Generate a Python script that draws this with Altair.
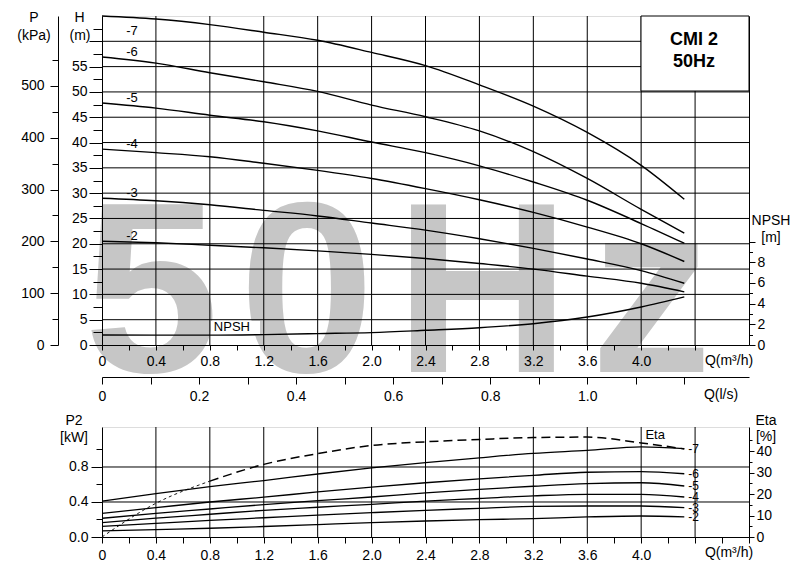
import altair as alt
import pandas as pd

# ---------------- data ----------------
Q = [0, 0.4, 0.8, 1.2, 1.6, 2.0, 2.4, 2.8, 3.2, 3.6, 4.0, 4.32]
STAGES = ["-7", "-6", "-5", "-4", "-3", "-2"]

H_7 = [65.0, 64.4, 63.3, 61.8, 60.2, 57.8, 55.2, 51.4, 47.2, 42.0, 35.5, 28.8]
H_6 = [56.9, 55.7, 53.8, 52.0, 50.1, 47.4, 45.1, 42.3, 38.2, 32.9, 26.8, 22.1]
H_5 = [47.8, 46.8, 45.4, 44.1, 42.3, 40.1, 38.0, 35.4, 32.2, 28.6, 24.0, 20.1]
H_4 = [38.7, 38.0, 37.2, 35.9, 34.5, 32.9, 30.9, 28.7, 26.2, 23.3, 20.0, 16.5]
H_3 = [29.0, 28.5, 27.7, 26.6, 25.5, 24.1, 22.7, 21.0, 19.1, 17.0, 14.7, 12.2]
H_2 = [20.5, 20.2, 19.7, 19.2, 18.6, 17.9, 17.1, 16.1, 15.0, 13.6, 12.2, 10.5]
NPSH = [0.97, 0.95, 0.95, 1.0, 1.1, 1.2, 1.42, 1.67, 2.06, 2.7, 3.67, 4.65]

P2_7 = [0.41, 0.495, 0.575, 0.645, 0.72, 0.79, 0.85, 0.905, 0.955, 0.99, 1.03, 1.01]
P2_6 = [0.27, 0.335, 0.40, 0.455, 0.515, 0.57, 0.62, 0.665, 0.705, 0.74, 0.746, 0.723]
P2_5 = [0.214, 0.27, 0.32, 0.37, 0.415, 0.457, 0.505, 0.545, 0.58, 0.61, 0.62, 0.583]
P2_4 = [0.164, 0.215, 0.26, 0.305, 0.34, 0.373, 0.41, 0.44, 0.47, 0.488, 0.488, 0.457]
P2_3 = [0.122, 0.155, 0.19, 0.22, 0.25, 0.278, 0.305, 0.328, 0.35, 0.354, 0.354, 0.335]
P2_2 = [0.069, 0.085, 0.10, 0.12, 0.142, 0.164, 0.183, 0.198, 0.21, 0.229, 0.24, 0.229]
ETA = [0, 15.7, 26.0, 33.8, 38.8, 42.6, 44.3, 45.4, 46.3, 46.5, 43.8, 41.0]

# tick values / grid values
Q_TICKS_TOP = [round(0.2 * i, 1) for i in range(23)]
Q_TICKS_BOT = [round(0.2 * i, 1) for i in range(25)]
LS_TICKS = [round(0.1 * i, 1) for i in range(13)]
H_TICKS = [2.5 * i for i in range(26)]
P_TICKS = [50 * i for i in range(12)]
NPSH_TICKS = list(range(11))
P2_TICKS = [round(0.2 * i, 1) for i in range(6)]
ETA_TICKS = [5 * i for i in range(10)]
Q_GRID = [round(0.4 * i, 1) for i in range(1, 12)]
H_GRID = [5 * i for i in range(1, 13)]
P2_GRID = [0.4, 0.8]

H_SERIES = [H_7, H_6, H_5, H_4, H_3, H_2]
P2_SERIES = [P2_7, P2_6, P2_5, P2_4, P2_3, P2_2]

df_h = pd.DataFrame([{"Q": q, "H": h, "stage": s}
                     for s, ser in zip(STAGES, H_SERIES) for q, h in zip(Q, ser)])
df_n = pd.DataFrame({"Q": Q, "N": NPSH})
df_p2 = pd.DataFrame([{"Q": q, "P2": p, "stage": s}
                      for s, ser in zip(STAGES, P2_SERIES) for q, p in zip(Q, ser)])
df_eta = pd.DataFrame({"Q": Q, "Eta": ETA})
ONE = pd.DataFrame({"k": [0]})

FONT = "Liberation Sans"
W, HT, HB = 647, 329, 110


def c(test, a, b):
    return {"condition": {"test": test, "value": a}, "value": b}


q_major = "round(datum.value*5) % 2 == 0"
q_label = ("(" + q_major + ") && datum.value <= 4.01 ? "
           "(datum.value == 0 ? '0' : format(datum.value, '.1f')) : ''")

common = dict(labelFlush=False, labelOverlap=False, grid=False, title=None,
              labelFont=FONT, labelFontSize=14, labelColor="black",
              tickColor="black", domainColor="black", zindex=1)

q_axis_top = alt.Axis(values=Q_TICKS_TOP, tickSize=5, labelPadding=4,
                      labelExpr=q_label, **common)
q_axis_bot = alt.Axis(values=Q_TICKS_BOT, tickSize=6, labelPadding=5,
                      labelExpr=q_label, **common)
h_axis = alt.Axis(values=H_TICKS, tickSize=c("datum.value % 5 == 0", 13, 9),
                  labelPadding=2,
                  labelExpr="datum.value % 5 == 0 && datum.value <= 55 ? format(datum.value, 'd') : ''",
                  **common)
p_axis = alt.Axis(values=P_TICKS, orient="left", offset=44,
                  tickSize=c("datum.value % 100 == 0", 8, 6), labelPadding=6,
                  labelExpr="datum.value % 100 == 0 ? format(datum.value, 'd') : ''",
                  **common)
npsh_axis = alt.Axis(values=NPSH_TICKS, orient="right",
                     tickSize=c("datum.value % 2 == 0", 6, 3.5), labelPadding=2,
                     labelExpr="datum.value % 2 == 0 && datum.value <= 8 ? format(datum.value, 'd') : ''",
                     **common)
ls_axis = alt.Axis(values=LS_TICKS, orient="bottom", offset=32, tickSize=7, labelPadding=5,
                   labelExpr="round(datum.value*10) % 2 == 0 && datum.value <= 1.01 ? "
                             "(datum.value == 0 ? '0' : format(datum.value, '.1f')) : ''",
                   **common)
p2_axis = alt.Axis(values=P2_TICKS, tickSize=c(q_major, 11, 6), labelPadding=3,
                   labelExpr="(" + q_major + ") && datum.value <= 0.81 ? format(datum.value, '.1f') : ''",
                   **common)
eta_axis = alt.Axis(values=ETA_TICKS, orient="right",
                    tickSize=c("datum.value % 10 == 0", 5, 3), labelPadding=2,
                    labelExpr="datum.value % 10 == 0 ? format(datum.value, 'd') : ''",
                    **common)

q_scale = alt.Scale(domain=[0, 4.8], nice=False, zero=True)
X_TOP = alt.X("Q:Q", scale=q_scale, axis=q_axis_top)
Y_TOP = alt.Y("H:Q", scale=alt.Scale(domain=[0, 65], nice=False), axis=h_axis)
X_BOT = alt.X("Q:Q", scale=q_scale, axis=q_axis_bot)
Y_P2 = alt.Y("P2:Q", scale=alt.Scale(domain=[0, 1.257], nice=False), axis=p2_axis)


def txt(s, x, y, size=14, weight="normal", align="center"):
    return alt.Chart(ONE).mark_text(
        text=s, fontSize=size, fontWeight=weight, align=align, baseline="middle",
        font=FONT, color="black").encode(x=alt.value(x), y=alt.value(y))


# ---------------- top panel ----------------
watermark = alt.Chart(ONE).mark_text(
    text="5\u200a0\u200aH\u200az", font=FONT, fontSize=243, fontWeight="bold",
    color="#c6c6c6", align="center", baseline="alphabetic"
).encode(x=alt.value(296), y=alt.value(356))

npsh_bg = alt.Chart(ONE).mark_rect(fill="white").encode(
    x=alt.value(109), x2=alt.value(158), y=alt.value(305), y2=alt.value(318))

vgrid_top = alt.Chart(pd.DataFrame({"Q": Q_GRID})).mark_rule(
    color="black", strokeWidth=1).encode(x=X_TOP)
hgrid_top = alt.Chart(pd.DataFrame({"H": H_GRID})).mark_rule(
    color="black", strokeWidth=1).encode(y=Y_TOP)

box = alt.Chart(ONE).mark_rect(fill="white", stroke="black", strokeWidth=1).encode(
    x=alt.value(539), x2=alt.value(647), y=alt.value(0), y2=alt.value(75))

h_lines = alt.Chart(df_h).mark_line(
    color="black", strokeWidth=1.4, interpolate="monotone").encode(
    x=X_TOP, y=Y_TOP, detail="stage:N")
h_lab = alt.Chart(df_h).transform_filter(
    "datum.Q == 0 && datum.stage != '-7'").mark_text(
    dx=30, dy=-5, fontSize=13, font=FONT, color="black", baseline="middle").encode(
    x=X_TOP, y=Y_TOP, text="stage:N")
h_lab7 = alt.Chart(df_h).transform_filter(
    "datum.Q == 0 && datum.stage == '-7'").mark_text(
    dx=30, dy=15, fontSize=13, font=FONT, color="black", baseline="middle").encode(
    x=X_TOP, y=Y_TOP, text="stage:N")

inner_top = alt.layer(
    watermark, npsh_bg, vgrid_top, hgrid_top, box, h_lines, h_lab, h_lab7,
    txt("CMI 2", 592, 24, 18, "bold"), txt("50Hz", 592, 46, 18, "bold"),
    txt("P", -68, 1.5), txt("(kPa)", -68, 20),
    txt("H", -22.5, 1.5), txt("(m)", -22, 20),
    txt("NPSH", 669, 205), txt("[m]", 669, 222),
    txt("Q(m³/h)", 627, 345), txt("Q(l/s)", 619, 379),
)

n_x = alt.X("Q:Q", scale=q_scale, axis=None)
n_y = alt.Y("N:Q", scale=alt.Scale(domain=[0, 31.8], nice=False), axis=npsh_axis)
npsh_layer = alt.layer(
    alt.Chart(df_n).mark_line(color="black", strokeWidth=1.4, interpolate="monotone").encode(x=n_x, y=n_y),
    alt.Chart(df_n).transform_filter("datum.Q == 0.8").mark_text(
        text="NPSH", align="left", dx=4, dy=-8, fontSize=13, font=FONT, color="black",
        baseline="middle").encode(x=n_x, y=n_y),
)

p_layer = alt.Chart(pd.DataFrame({"P": P_TICKS})).mark_point(opacity=0).encode(
    y=alt.Y("P:Q", scale=alt.Scale(domain=[0, 635], nice=False), axis=p_axis))
ls_layer = alt.Chart(pd.DataFrame({"L": LS_TICKS})).mark_point(opacity=0).encode(
    x=alt.X("L:Q", scale=alt.Scale(domain=[0, 4.8 / 3.6], nice=False), axis=ls_axis))

top = alt.layer(inner_top, npsh_layer, p_layer, ls_layer).resolve_scale(
    x="independent", y="independent").properties(width=W, height=HT)

# ---------------- bottom panel ----------------
vgrid_bot = alt.Chart(pd.DataFrame({"Q": Q_GRID})).mark_rule(
    color="black", strokeWidth=1).encode(x=X_BOT)
hgrid_bot = alt.Chart(pd.DataFrame({"P2": P2_GRID})).mark_rule(
    color="black", strokeWidth=1).encode(y=Y_P2)
p2_lines = alt.Chart(df_p2).mark_line(
    color="black", strokeWidth=1.3, interpolate="monotone").encode(
    x=X_BOT, y=Y_P2, detail="stage:N")
p2_lab = alt.Chart(df_p2).transform_filter("datum.Q == 4.32").mark_text(
    align="left", dx=4, fontSize=12, font=FONT, color="black", baseline="middle").encode(
    x=X_BOT, y=Y_P2, text="stage:N")
p2_layer = alt.layer(
    vgrid_bot, hgrid_bot, p2_lines, p2_lab,
    txt("P2", -28, -6), txt("[kW]", -28, 11),
    txt("Eta", 664, -6), txt("[%]", 664, 10),
    txt("Q(m³/h)", 627, 126),
)

Y_ETA = alt.Y("Eta:Q", scale=alt.Scale(domain=[0, 51.2], nice=False), axis=eta_axis)
eta_layer = alt.layer(
    alt.Chart(df_eta).transform_filter("datum.Q <= 0.8").mark_line(
        color="black", strokeWidth=0.9, strokeDash=[3, 3], interpolate="monotone").encode(x=X_BOT, y=Y_ETA),
    alt.Chart(df_eta).transform_filter("datum.Q >= 0.8").mark_line(
        color="black", strokeWidth=1.5, strokeDash=[9, 5], interpolate="monotone").encode(x=X_BOT, y=Y_ETA),
    alt.Chart(df_eta).transform_filter("datum.Q == 4.0").mark_text(
        text="Eta", dx=14, dy=-8, fontSize=13, font=FONT, color="black", baseline="middle").encode(
        x=X_BOT, y=Y_ETA),
)

bottom = alt.layer(p2_layer, eta_layer).resolve_scale(y="independent").properties(
    width=W, height=HB)

chart = alt.vconcat(top, bottom, spacing=82, bounds="flush").properties(
    padding={"left": 8, "top": 2, "right": 5, "bottom": 5}
).configure_view(stroke="black", strokeWidth=1).configure(font=FONT)

chart.save("out.html", embed_options={"renderer": "svg", "actions": False})
